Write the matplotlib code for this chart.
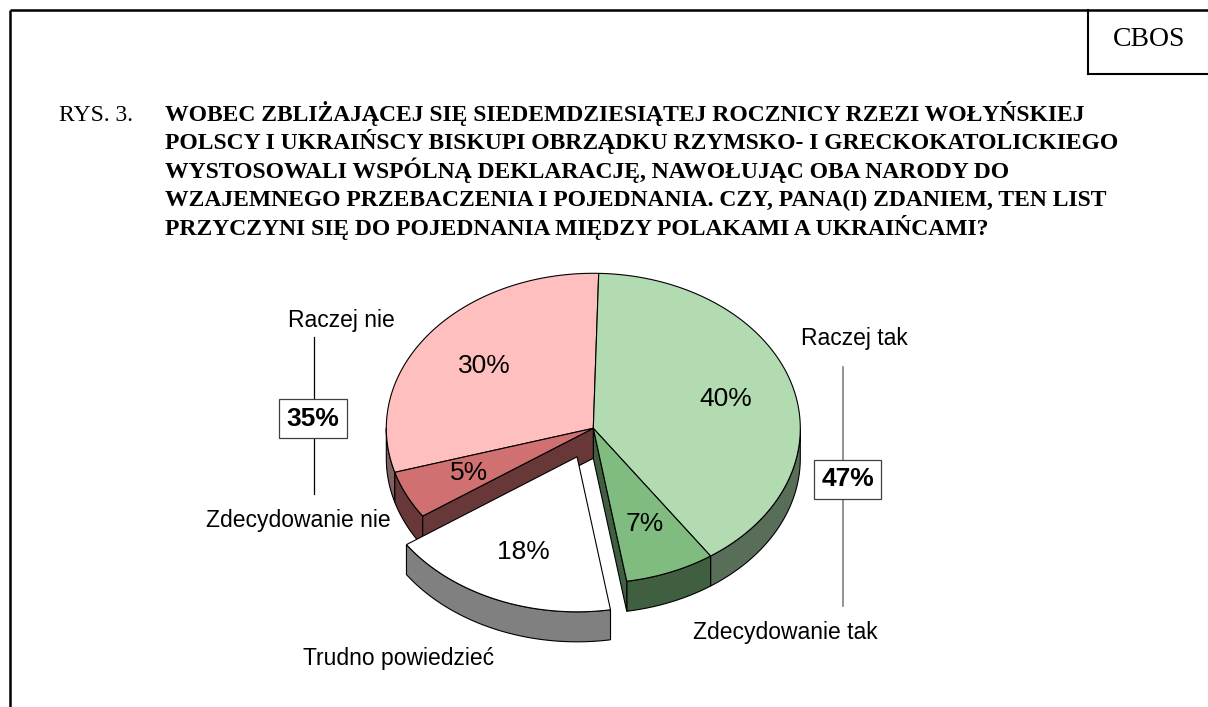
import numpy as np
import matplotlib.pyplot as plt
from matplotlib.patches import Polygon
from matplotlib.colors import to_rgb

# data
categories = ["Raczej tak", "Zdecydowanie tak", "Trudno powiedzieć",
              "Zdecydowanie nie", "Raczej nie"]
values = [40, 7, 18, 5, 30]
top_colors = ['#B2DBB2', '#80BC80', '#FFFFFF', '#D07070', '#FFBFBF']
explode = [0, 0, 0.2, 0, 0]

title_prefix = "RYS. 3."
title_lines = [
    "WOBEC ZBLIŻAJĄCEJ SIĘ SIEDEMDZIESIĄTEJ ROCZNICY RZEZI WOŁYŃSKIEJ",
    "POLSCY I UKRAIŃSCY BISKUPI OBRZĄDKU RZYMSKO- I GRECKOKATOLICKIEGO",
    "WYSTOSOWALI WSPÓLNĄ DEKLARACJĘ, NAWOŁUJĄC OBA NARODY DO",
    "WZAJEMNEGO PRZEBACZENIA I POJEDNANIA. CZY, PANA(I) ZDANIEM, TEN LIST",
    "PRZYCZYNI SIĘ DO POJEDNANIA MIĘDZY POLAKAMI A UKRAIŃCAMI?",
]

# pie geometry (pixels)
CX, CY, RX, RY, DEPTH = 593.3, 428.3, 207, 155, 30
START = 88.5
LABEL_R = 0.665

SANS = 'Liberation Sans'
SERIF = 'Liberation Serif'

fig = plt.figure(figsize=(12.08, 7.07), dpi=100)
ax = fig.add_axes([0, 0, 1, 1])
ax.set_xlim(0, 1208)
ax.set_ylim(707, 0)
ax.axis('off')


def shade(c, f=0.5):
    return tuple(v * f for v in to_rgb(c))


total = sum(values)
slices = []
a = START
for i, v in enumerate(values):
    span = 360.0 * v / total
    hi = a
    lo = a - span
    a = lo
    mid = np.radians((hi + lo) / 2)
    ox = explode[i] * RX * np.cos(mid)
    oy = -explode[i] * RY * np.sin(mid)
    slices.append((lo, hi, ox, oy))


def rim(th, ox, oy, dz=0.0, r=1.0):
    t = np.radians(th)
    return CX + ox + r * RX * np.cos(t), CY + oy - r * RY * np.sin(t) + dz


def draw_slice(i):
    lo, hi, ox, oy = slices[i]
    col = top_colors[i]
    side = shade(col)
    apex = (CX + ox, CY + oy)
    lw = 0.8

    # outer side, front half only
    for k in (-1, 0, 1):
        s = max(lo, -180 + 360 * k)
        e = min(hi, 360 * k)
        if e > s:
            th = np.linspace(s, e, 80)
            top = [rim(t, ox, oy) for t in th]
            bot = [rim(t, ox, oy, DEPTH) for t in th[::-1]]
            ax.add_patch(Polygon(top + bot, closed=True, fc=side,
                                 ec='black', lw=lw))

    # radial cut faces facing the viewer
    for th, visible in ((lo, np.cos(np.radians(lo)) > 0),
                        (hi, np.cos(np.radians(hi)) < 0)):
        if visible:
            p = rim(th, ox, oy)
            pts = [apex, p, (p[0], p[1] + DEPTH), (apex[0], apex[1] + DEPTH)]
            ax.add_patch(Polygon(pts, closed=True, fc=side, ec='black', lw=lw))

    # top
    th = np.linspace(hi, lo, 200)
    pts = [apex] + [rim(t, ox, oy) for t in th]
    ax.add_patch(Polygon(pts, closed=True, fc=col, ec='black', lw=lw))

    mid = (lo + hi) / 2
    lx, ly = rim(mid, ox, oy, r=LABEL_R)
    ax.text(lx, ly, f"{values[i]}%", ha='center', va='center',
            fontsize=19, family=SANS)


for i in [4, 0, 1, 3, 2]:
    draw_slice(i)

# category labels
ax.text(341, 320, categories[4], ha='center', va='center', fontsize=16.5, family=SANS)
ax.text(298, 520, categories[3], ha='center', va='center', fontsize=16.5, family=SANS)
ax.text(854.5, 338, categories[0], ha='center', va='center', fontsize=16.5, family=SANS)
ax.text(785, 633, categories[1], ha='center', va='center', fontsize=16.5, family=SANS)
ax.text(399, 658, categories[2], ha='center', va='center', fontsize=16.5, family=SANS)

# group brackets
left_sum = values[3] + values[4]
right_sum = values[0] + values[1]
ax.plot([314, 314], [337, 494], color='black', lw=0.9)
ax.plot([843.3, 843.3], [367, 606], color='#808080', lw=1.2)
box = dict(boxstyle='square,pad=0.28', fc='white', ec='#404040', lw=0.9)
ax.text(313, 418.5, f"{left_sum}%", ha='center', va='center', fontsize=19,
        family=SANS, fontweight='bold', bbox=box)
ax.text(847.5, 479.5, f"{right_sum}%", ha='center', va='center', fontsize=19,
        family=SANS, fontweight='bold', bbox=box)

# title
base0 = 121
ax.text(59, base0, title_prefix, ha='left', va='baseline', fontsize=17, family=SERIF)
for j, line in enumerate(title_lines):
    ax.text(165, base0 + 28.5 * j, line, ha='left', va='baseline', fontsize=17,
            family=SERIF, fontweight='bold')

# frame and CBOS box
ax.plot([10, 1208], [10, 10], color='black', lw=1.8, solid_capstyle='butt')
ax.plot([10, 10], [10, 707], color='black', lw=1.8, solid_capstyle='butt')
ax.plot([1088.3, 1088.3], [10, 74], color='black', lw=1.5)
ax.plot([1088.3, 1208], [74, 74], color='black', lw=1.5)
ax.text(1149, 40, "CBOS", ha='center', va='center', fontsize=20, family=SERIF)

fig.savefig('out.png', dpi=100)
